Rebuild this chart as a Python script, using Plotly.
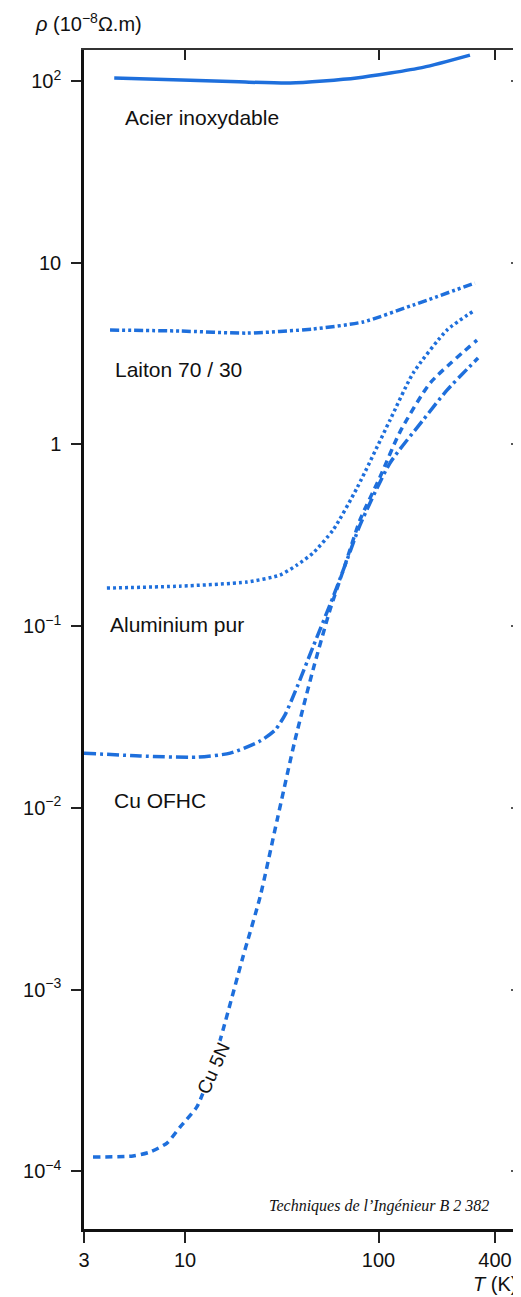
import numpy as np
import plotly.graph_objects as go

# Resistivity rho (1e-8 ohm.m) against temperature T (K)
T_acier = [4.3, 10.6, 19, 35, 77, 170, 297]
rho_acier = [104, 101, 99, 97.5, 104, 119, 139]

T_laiton = [4.09, 9.4, 20.9, 45.8, 83, 151, 315]
rho_laiton = [4.26, 4.21, 4.10, 4.32, 4.72, 5.85, 7.73]

T_alu = [3.94, 9.4, 20.9, 30.9, 37.9, 45.8, 58.2, 77.4, 114.6, 151, 226, 315]
rho_alu = [0.162, 0.166, 0.175, 0.191, 0.217, 0.2525, 0.338, 0.576, 1.36, 2.47, 4.26, 5.49]

T_ofhc = [3.0, 5.84, 11.5, 17.1, 24.4, 29.2, 32.8, 37.9, 45.8, 58.2, 68.7, 80.2, 114.6, 170, 226, 327]
rho_ofhc = [0.0200, 0.0193, 0.0190, 0.0200, 0.0233, 0.0268, 0.0324, 0.0462, 0.0767,
            0.1446, 0.231, 0.360, 0.790, 1.362, 1.99, 2.99]

T_cu5n = [3.34, 5.38, 6.58, 8.06, 9.41, 11.5, 13.4, 15.7, 19.9, 24.4, 29.9, 37.0,
          45.8, 56.1, 67.1, 80.2, 101.8, 129, 185, 323]
rho_cu5n = [1.197e-4, 1.213e-4, 1.275e-4, 1.429e-4, 1.75e-4, 2.26e-4, 3.38e-4, 5.99e-4,
            1.51e-3, 3.23e-3, 8.57e-3, 0.0236, 0.0573, 0.1227, 0.217, 0.384, 0.662,
            1.17, 2.18, 3.75]

y_tickvals = [1e2, 10, 1, 1e-1, 1e-2, 1e-3, 1e-4]
y_ticktext = ["10<sup>2</sup>", "10", "1", "10<sup>−1</sup>", "10<sup>−2</sup>",
              "10<sup>−3</sup>", "10<sup>−4</sup>"]
x_tickvals = [3, 10, 100, 400]
x_ticktext = ["3", "10", "100", "400"]

BLUE = "#1e6fdc"
FONT = "Liberation Sans, Arial, sans-serif"

X_RANGE = [np.log10(3), np.log10(3) + 437 / 193.4]
Y_RANGE = [-4.318, 2.171]

fig = go.Figure()

curves = [
    (T_acier, rho_acier, "solid", "Acier inoxydable"),
    (T_laiton, rho_laiton, "9px,3px,3px,3px,3px,3px", "Laiton 70 / 30"),
    (T_alu, rho_alu, "3px,3px", "Aluminium pur"),
    (T_ofhc, rho_ofhc, "12px,4px,3px,4px", "Cu OFHC"),
    (T_cu5n, rho_cu5n, "7px,5px", "Cu 5N"),
]
for tx, ry, dash, name in curves:
    fig.add_trace(go.Scatter(
        x=tx, y=ry, mode="lines", name=name,
        line=dict(color=BLUE, width=3.5, dash=dash, shape="spline", smoothing=0.6),
        showlegend=False,
    ))

# invisible trace so the top / right tick axes get drawn
fig.add_trace(go.Scatter(
    x=T_acier, y=rho_acier, xaxis="x2", yaxis="y2", mode="lines",
    line=dict(width=0), opacity=0, hoverinfo="skip", showlegend=False,
))

# label positions in reference pixels (plot area: x 84..521, y 50..1229)
def px(x):
    return (x - 84) / 437


def py(y):
    return (1229 - y) / 1179


labels = [
    ("Acier inoxydable", 123, 118),
    ("Laiton 70 / 30", 113, 369),
    ("Aluminium pur", 108, 624),
    ("Cu OFHC", 112, 800),
]
for txt, lx, ly in labels:
    fig.add_annotation(
        text=txt, xref="paper", yref="paper", x=px(lx), y=py(ly),
        xanchor="left", yanchor="middle", showarrow=False,
        font=dict(family=FONT, size=21, color="#111"),
    )

fig.add_annotation(
    text="Cu 5N", xref="paper", yref="paper", x=px(213), y=py(1068),
    xanchor="center", yanchor="middle", textangle=-66, showarrow=False,
    bgcolor="white", borderpad=0,
    font=dict(family=FONT, size=19, color="#111"),
)

fig.add_annotation(
    text="<i>ρ</i> (10<sup>−8</sup>Ω.m)", xref="paper", yref="paper",
    x=px(33), y=py(22), xanchor="left", yanchor="middle", showarrow=False,
    font=dict(family=FONT, size=20, color="#111"),
)
fig.add_annotation(
    text="<i>T</i> (K)", xref="paper", yref="paper", x=px(519), y=py(1284),
    xanchor="right", yanchor="middle", showarrow=False,
    font=dict(family=FONT, size=20, color="#111"),
)
fig.add_annotation(
    text="<i>Techniques de l’Ingénieur B 2 382</i>", xref="paper", yref="paper",
    x=px(491), y=py(1206), xanchor="right", yanchor="middle", showarrow=False,
    font=dict(family="Liberation Serif, Times New Roman, serif", size=16, color="#111"),
)

# the page body adds 8px of margin, so the figure is 8px smaller on each side
fig.update_layout(
    width=513, height=1289,
    margin=dict(l=76, r=0, t=42, b=68),
    paper_bgcolor="white", plot_bgcolor="white",
    font=dict(family=FONT, size=20, color="#111"),
    xaxis=dict(
        type="log", range=X_RANGE, tickvals=x_tickvals, ticktext=x_ticktext,
        ticks="outside", ticklen=11, tickwidth=1.5, tickcolor="#222",
        showline=True, linecolor="#111", linewidth=2.5,
        showgrid=False, zeroline=False, automargin=False,
    ),
    yaxis=dict(
        type="log", range=Y_RANGE, tickvals=y_tickvals, ticktext=y_ticktext,
        ticks="outside", ticklen=10, tickwidth=1.5, tickcolor="#222",
        ticklabelstandoff=6,
        showline=True, linecolor="#111", linewidth=2.5,
        showgrid=False, zeroline=False, automargin=False,
    ),
    xaxis2=dict(
        type="log", range=X_RANGE, tickvals=x_tickvals[1:], overlaying="x",
        side="top", anchor="y2", ticks="inside", ticklen=10, tickwidth=1.5,
        tickcolor="#222", showticklabels=False, automargin=False,
        showline=True, linecolor="#333", linewidth=1.5, showgrid=False, zeroline=False,
    ),
    yaxis2=dict(
        type="log", range=Y_RANGE, tickvals=y_tickvals, overlaying="y",
        side="right", anchor="x2", ticks="inside", ticklen=10, tickwidth=1.5,
        tickcolor="#555", showticklabels=False, automargin=False,
        showline=False, showgrid=False, zeroline=False,
    ),
)

fig.write_html("out.html")
